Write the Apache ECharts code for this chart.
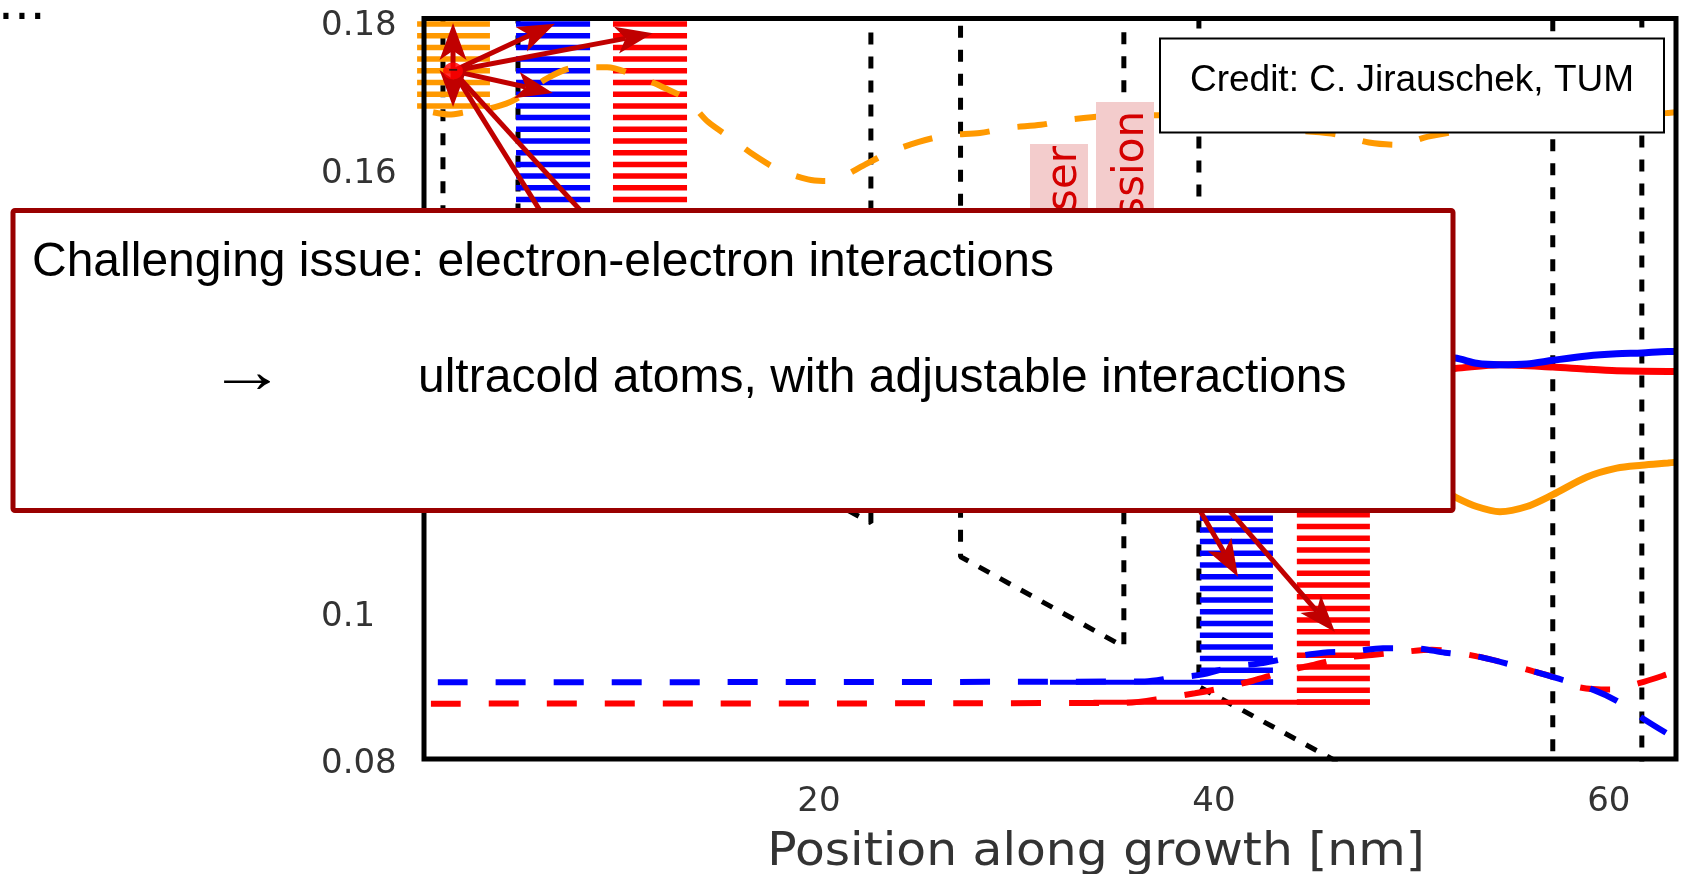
<!DOCTYPE html>
<html>
<head>
<meta charset="utf-8">
<script src="https://cdn.jsdelivr.net/npm/echarts@6/dist/echarts.min.js"></script>
<style>
  html, body { margin: 0; padding: 0; background: #fff; }
  #chart { width: 1681px; height: 874px; }
</style>
</head>
<body>
<div id="chart"></div>
<script>
// ---- Data: energies (eV) against position along growth (nm) ----

// Conduction-band edge under bias (barrier tops lie above the plotted range)
const bandEdge = [
  [0, 0.1447], [0.96, 0.1433], [0.96, 0.25], [4.76, 0.25], [4.76, 0.1378],
  [22.63, 0.1120], [22.63, 0.25], [27.17, 0.25], [27.17, 0.1074], [35.44, 0.0952],
  [35.44, 0.25], [39.24, 0.25], [39.24, 0.0898], [57.16, 0.0638], [57.16, 0.25],
  [61.67, 0.25], [61.67, 0.0572], [63.4, 0.0547]
];

// Upper (injector) state, dashed
const orangeDashed = [
  [0.46, 0.1676], [1.27, 0.1673], [2.08, 0.1676], [3.59, 0.1683], [4.61, 0.1693],
  [6.23, 0.1722], [7.54, 0.1736], [9.27, 0.1737], [10.68, 0.1726], [12.1, 0.1710],
  [13.32, 0.1693], [14.38, 0.1663], [15.54, 0.1641], [16.71, 0.1618], [17.97, 0.1598],
  [19.44, 0.1585], [20.2, 0.1583], [20.91, 0.1585], [22.33, 0.1605], [23.59, 0.1622], [25.06, 0.1636],
  [26.53, 0.1645], [28.15, 0.1648], [29.62, 0.1655], [31.24, 0.1659], [32.71, 0.1666],
  [35.5, 0.1672], [38.5, 0.1672], [41.5, 0.1663], [44.0, 0.1652], [46.23, 0.1646],
  [47.85, 0.1635], [49.32, 0.1632], [50.84, 0.1643], [53.5, 0.1655], [56.5, 0.1665],
  [59.5, 0.1672], [62.94, 0.1675], [63.4, 0.1676]
];

// Next-period states, solid
const orangeSolid = [
  [46.5, 0.1235], [49.0, 0.1205], [51.0, 0.1172], [52.2, 0.1155], [53.3, 0.1142],
  [54.48, 0.1135], [55.85, 0.1142], [57.16, 0.1158], [58.89, 0.1182], [60.4, 0.1194],
  [61.67, 0.1198], [62.99, 0.1201], [63.4, 0.1202]
];
const blueSolid = [
  [46.0, 0.1350], [49.0, 0.1346], [52.2, 0.1343], [53.3, 0.1336], [54.48, 0.1334],
  [55.85, 0.1335], [57.16, 0.1340], [58.89, 0.1346], [60.4, 0.1349], [61.67, 0.1350],
  [62.99, 0.1352], [63.4, 0.1352]
];
const redSolid = [
  [46.0, 0.1318], [49.0, 0.1324], [52.2, 0.1329], [54.48, 0.1334], [57.16, 0.1331],
  [58.89, 0.1328], [60.4, 0.1326], [62.99, 0.1325], [63.4, 0.1325]
];

// Lower laser state and extraction state, dashed
const blueDashed = [
  [0.7, 0.0904], [36.5, 0.0905], [37.92, 0.0910], [39.29, 0.0914], [40.96, 0.0925],
  [42.48, 0.0930], [44.0, 0.0938], [45.52, 0.0944], [47.04, 0.0946], [48.56, 0.0950],
  [50.18, 0.0950], [51.7, 0.0944], [53.32, 0.0939], [54.73, 0.0930], [56.15, 0.0919],
  [57.67, 0.0907], [59.19, 0.0894], [60.46, 0.0878], [61.72, 0.0855], [62.99, 0.0834],
  [63.4, 0.0828]
];
const redDashed = [
  [0.35, 0.0875], [35.5, 0.0876], [37.62, 0.0883], [39.04, 0.0889], [40.56, 0.0897],
  [41.97, 0.0906], [43.49, 0.0918], [44.96, 0.0927], [46.53, 0.0937], [48.0, 0.0941],
  [49.57, 0.0945], [51.04, 0.0948], [53.32, 0.0939], [54.73, 0.0930], [56.15, 0.0919],
  [57.67, 0.0907], [58.53, 0.0897], [60.05, 0.0894], [61.57, 0.0903], [62.99, 0.0915],
  [63.4, 0.0919]
];

// Level markers
const blueLevel = [[31.7, 0.0904], [43.0, 0.0904]];
const redLevel = [[33.9, 0.0877], [47.9, 0.0877]];

// Hatched bands: [x start, x end, lower energy, upper energy]
const orangeBand = [-0.35, 3.34, 0.1681, 0.17993];
const blueBandTop = [4.66, 8.41, 0.148, 0.17993];
const redBandTop = [9.57, 13.32, 0.148, 0.17993];
const blueBandLow = [39.29, 42.99, 0.09006, 0.122];
const redBandLow = [44.2, 47.9, 0.08735, 0.122];

// Electron and scattering arrows: [x0, e0, x1, e1]
const electron = [1.47, 0.1732];
const scatterArrows = [
  [1.47, 0.1732, 1.47, 0.1797],
  [1.47, 0.1732, 1.47, 0.1683],
  [1.47, 0.1732, 6.63, 0.1796],
  [1.47, 0.1732, 11.59, 0.1783],
  [1.47, 0.1732, 6.53, 0.1702],
  [1.47, 0.1732, 12.76, 0.1247],
  [1.47, 0.1732, 18.03, 0.1247],
  [36.66, 0.1259, 41.22, 0.1047],
  [36.81, 0.1259, 46.13, 0.0972]
];

// Axis ranges
const xRange = [0, 63.4];
const yRange = [0.08, 0.1803];

// ---- Chart ----
const ORANGE = '#ff9900', BLUE = '#0000ff', RED = '#ff0000', ARROW = '#c00000';
const GRID = { left: 424, top: 18.5, width: 1252, height: 740.5 };

function hatchSeries(band, color, fromTop) {
  return {
    type: 'custom',
    z: 3,
    clip: false,
    silent: true,
    data: [band],
    renderItem: function (params, api) {
      const pA = api.coord([api.value(0), api.value(3)]);
      const pB = api.coord([api.value(1), api.value(2)]);
      const left = pA[0], width = pB[0] - pA[0];
      const top = pA[1], bottom = pB[1];
      const pitch = 11.7, thick = 5.5;
      const children = [];
      if (fromTop) {
        for (let y = top; y + thick <= bottom + 0.5; y += pitch) {
          children.push({ type: 'rect', shape: { x: left, y: y, width: width, height: thick }, style: { fill: color } });
        }
      } else {
        for (let y = bottom - thick; y >= top - 0.5; y -= pitch) {
          children.push({ type: 'rect', shape: { x: left, y: y, width: width, height: thick }, style: { fill: color } });
        }
      }
      return { type: 'group', children: children };
    }
  };
}

function lineSeries(data, color, width, dashed, z) {
  return {
    type: 'line',
    data: data,
    showSymbol: false,
    symbol: 'none',
    smooth: 0.3,
    z: z || 4,
    silent: true,
    lineStyle: { color: color, width: width, type: dashed ? [30, 28] : 'solid', cap: 'butt' }
  };
}

const arrowSeries = {
  type: 'custom',
  z: 6,
  clip: false,
  silent: true,
  data: scatterArrows,
  renderItem: function (params, api) {
    const a = api.coord([api.value(0), api.value(1)]);
    const b = api.coord([api.value(2), api.value(3)]);
    const dx = b[0] - a[0], dy = b[1] - a[1];
    const len = Math.hypot(dx, dy);
    const ux = dx / len, uy = dy / len;
    const nx = -uy, ny = ux;
    const headL = 37, headW = 27;
    const bx = b[0] - ux * headL, by = b[1] - uy * headL;
    const mx = b[0] - ux * headL * 0.75, my = b[1] - uy * headL * 0.75;
    return {
      type: 'group',
      children: [
        { type: 'line', shape: { x1: a[0], y1: a[1], x2: mx, y2: my }, style: { stroke: ARROW, lineWidth: 5 } },
        { type: 'polygon', shape: { points: [
            [b[0], b[1]],
            [bx + nx * headW / 2, by + ny * headW / 2],
            [mx, my],
            [bx - nx * headW / 2, by - ny * headW / 2]
          ] }, style: { fill: ARROW } }
      ]
    };
  }
};

const tickFont = { fontFamily: 'DejaVu Sans', fontSize: 34, color: '#333' };

const option = {
  animation: false,
  backgroundColor: '#fff',
  grid: Object.assign({ show: false }, GRID),
  xAxis: {
    type: 'value',
    min: xRange[0], max: xRange[1], interval: 20,
    axisLine: { show: false }, axisTick: { show: false }, splitLine: { show: false },
    axisLabel: Object.assign({ margin: 26, showMinLabel: false, showMaxLabel: false }, tickFont)
  },
  yAxis: {
    type: 'value',
    min: yRange[0], max: yRange[1], interval: 0.02,
    axisLine: { show: false }, axisTick: { show: false }, splitLine: { show: false },
    axisLabel: Object.assign({
      margin: 103, align: 'left', verticalAlign: 'top', lineHeight: 11, showMaxLabel: false,
      formatter: function (v) { return String(+v.toFixed(2)); }
    }, tickFont)
  },
  series: [
    {
      type: 'line', data: bandEdge, showSymbol: false, symbol: 'none', z: 2, silent: true,
      lineStyle: { color: '#000', width: 5, type: [12, 12] }
    },
    hatchSeries(orangeBand, ORANGE, true),
    hatchSeries(blueBandTop, BLUE, true),
    hatchSeries(redBandTop, RED, true),
    hatchSeries(blueBandLow, BLUE, false),
    hatchSeries(redBandLow, RED, false),
    lineSeries(orangeDashed, ORANGE, 6, true),
    lineSeries(redLevel, RED, 5, false),
    lineSeries(blueLevel, BLUE, 5, false),
    lineSeries(redDashed, RED, 6, true),
    lineSeries(blueDashed, BLUE, 6, true),
    lineSeries(orangeSolid, ORANGE, 7, false),
    lineSeries(redSolid, RED, 7, false),
    lineSeries(blueSolid, BLUE, 7, false),
    arrowSeries,
    {
      type: 'scatter', data: [electron], z: 7, silent: true,
      symbol: 'circle', symbolSize: [20, 17],
      itemStyle: { color: '#ff0000' },
      label: { show: true, position: 'inside', formatter: '\u2212', color: '#111', fontSize: 16, fontWeight: 'bold' }
    }
  ],
  graphic: [
    // ellipsis at the page corner
    { type: 'text', x: -2, y: 31, z: 30,
      style: { text: '...', fontFamily: 'DejaVu Sans', fontSize: 50, fill: '#000', align: 'left', verticalAlign: 'bottom', textAlign: 'left', textVerticalAlign: 'bottom' } },
    // plot frame
    { type: 'rect', z: 40, silent: true,
      shape: { x: GRID.left, y: GRID.top, width: GRID.width, height: GRID.height },
      style: { fill: 'none', stroke: '#000', lineWidth: 5 } },
    // rotated "Laser emission" label
    { type: 'rect', z: 50, shape: { x: 1030, y: 144, width: 58, height: 160 }, style: { fill: '#f3cccc' } },
    { type: 'rect', z: 50, shape: { x: 1096, y: 102, width: 58, height: 200 }, style: { fill: '#f3cccc' } },
    { type: 'text', z: 51, x: 1065, y: 146, rotation: Math.PI / 2,
      style: { text: 'Laser', fontFamily: 'DejaVu Sans', fontSize: 42, fill: '#d40000', align: 'right', verticalAlign: 'middle', textAlign: 'right', textVerticalAlign: 'middle' } },
    { type: 'text', z: 51, x: 1132, y: 111, rotation: Math.PI / 2,
      style: { text: 'emission', fontFamily: 'DejaVu Sans', fontSize: 42, fill: '#d40000', align: 'right', verticalAlign: 'middle', textAlign: 'right', textVerticalAlign: 'middle' } },
    // credit box
    { type: 'rect', z: 60, shape: { x: 1160, y: 38.5, width: 504, height: 94 }, style: { fill: '#fff', stroke: '#000', lineWidth: 2 } },
    { type: 'text', z: 61, x: 1412, y: 81,
      style: { text: 'Credit: C. Jirauschek, TUM', fontFamily: 'Liberation Sans', fontSize: 37, fill: '#000', align: 'center', verticalAlign: 'middle', textAlign: 'center', textVerticalAlign: 'middle' } },
    // call-out box
    { type: 'rect', z: 100, shape: { x: 13, y: 210.5, width: 1440, height: 300, r: 2 }, style: { fill: '#fff', stroke: '#990000', lineWidth: 5 } },
    { type: 'text', z: 101, x: 32, y: 263,
      style: { text: 'Challenging issue: electron-electron interactions', fontFamily: 'Liberation Sans', fontSize: 48, fill: '#000', align: 'left', verticalAlign: 'middle', textAlign: 'left', textVerticalAlign: 'middle' } },
    { type: 'text', z: 101, x: 208, y: 375, scaleX: 1.25,
      style: { text: '\u2192', fontFamily: 'Liberation Sans', fontSize: 62, fill: '#000', align: 'left', verticalAlign: 'middle', textAlign: 'left', textVerticalAlign: 'middle' } },
    { type: 'text', z: 101, x: 418, y: 379,
      style: { text: 'ultracold atoms, with adjustable interactions', fontFamily: 'Liberation Sans', fontSize: 48, fill: '#000', align: 'left', verticalAlign: 'middle', textAlign: 'left', textVerticalAlign: 'middle' } },
    // x-axis title
    { type: 'text', z: 30, x: 1096, y: 853, scaleX: 1.06,
      style: { text: 'Position along growth [nm]', fontFamily: 'DejaVu Sans', fontSize: 46, fill: '#333', align: 'center', verticalAlign: 'middle', textAlign: 'center', textVerticalAlign: 'middle' } }
  ]
};

const chart = echarts.init(document.getElementById('chart'), null, { renderer: 'canvas' });
chart.setOption(option);
</script>
</body>
</html>
